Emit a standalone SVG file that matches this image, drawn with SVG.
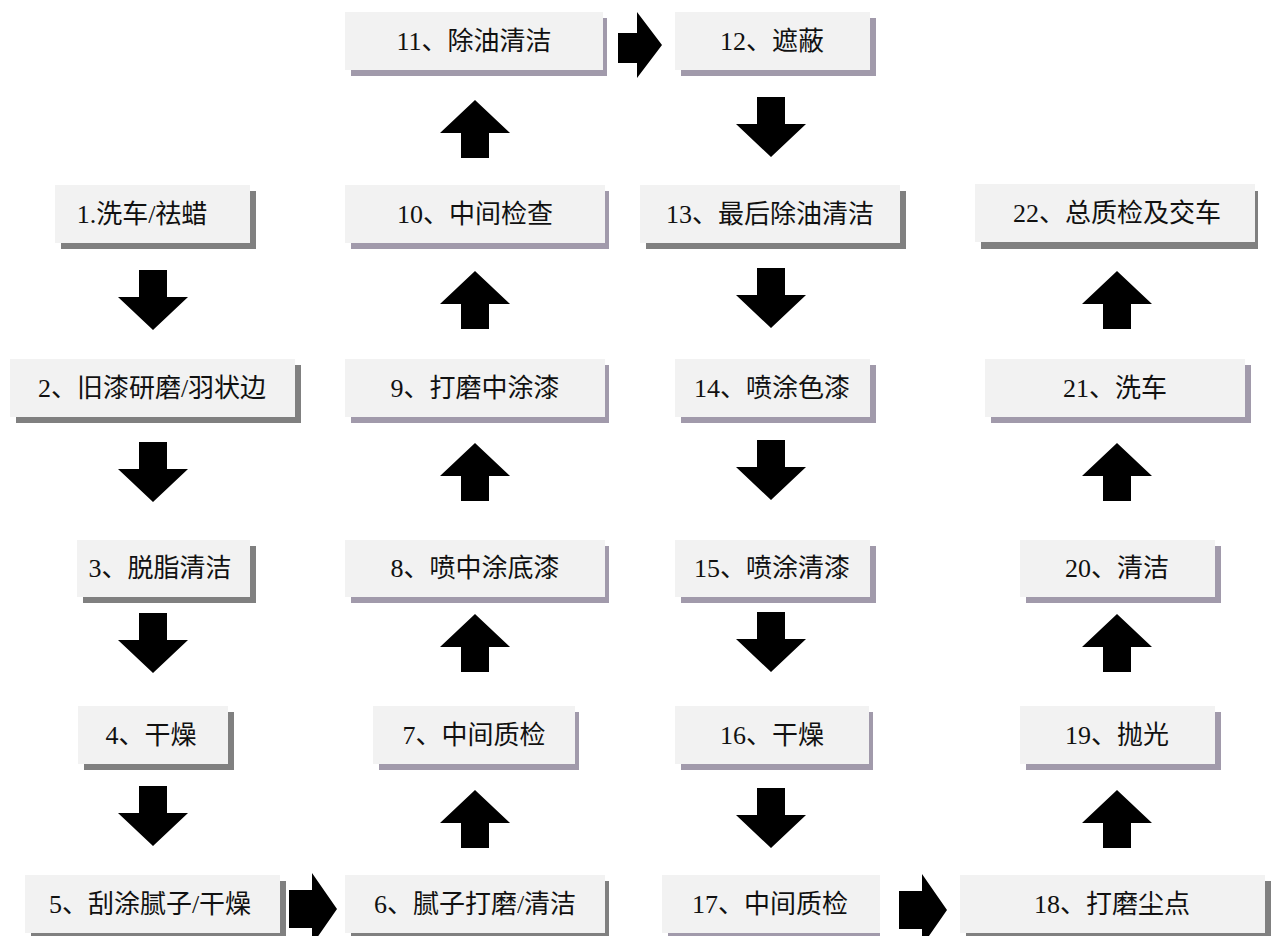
<svg xmlns="http://www.w3.org/2000/svg" width="1275" height="936" viewBox="0 0 1275 936">
<style>
.box{fill:#f2f2f2}
.sg{fill:#808080}
.sp{fill:#a19aab}
.t{font-family:"Liberation Serif","Noto Sans CJK SC",serif;font-size:26px;fill:#111;text-anchor:middle}
.ar{fill:#000}
</style>
<rect width="1275" height="936" fill="#fff"/>
<defs>
<polygon id="dn" points="-14,0 14,0 14,27 35,27 0,60 -35,27 -14,27"/>
<polygon id="up" points="0,0 35,33 14,33 14,58 -14,58 -14,33 -35,33"/>
<polygon id="rt" points="0,21 19,21 19,0 44,33 19,66 19,51 0,51"/>
<polygon id="rt2" points="0,-19 23,-19 23,-36 48,0 23,36 23,19 0,19"/>
</defs>
<g id="connectors" class="ar">
<use href="#rt" x="618" y="12"/>
<use href="#rt2" x="289" y="909"/>
<use href="#rt2" x="899" y="910"/>
<use href="#dn" x="153" y="270"/>
<use href="#dn" x="153" y="442"/>
<use href="#dn" x="153" y="613"/>
<use href="#dn" x="153" y="786"/>
<use href="#up" x="475" y="100"/>
<use href="#up" x="475" y="271"/>
<use href="#up" x="475" y="443"/>
<use href="#up" x="475" y="614"/>
<use href="#up" x="475" y="790"/>
<use href="#dn" x="771" y="97"/>
<use href="#dn" x="771" y="268"/>
<use href="#dn" x="771" y="440"/>
<use href="#dn" x="771" y="612"/>
<use href="#dn" x="771" y="788"/>
<use href="#up" x="1117" y="271"/>
<use href="#up" x="1117" y="443"/>
<use href="#up" x="1117" y="614"/>
<use href="#up" x="1117" y="790"/>
</g>
<g id="n1"><rect class="sg" x="61" y="191" width="195" height="58"/><rect class="box" x="55" y="185" width="195" height="58"/><text class="t" x="142" y="223">1.洗车/祛蜡</text></g>
<g id="n2"><rect class="sg" x="16" y="365" width="285" height="58"/><rect class="box" x="10" y="359" width="285" height="58"/><text class="t" x="152" y="397">2、旧漆研磨/羽状边</text></g>
<g id="n3"><rect class="sg" x="83" y="546" width="173" height="57"/><rect class="box" x="77" y="540" width="173" height="57"/><text class="t" x="160" y="577">3、脱脂清洁</text></g>
<g id="n4"><rect class="sg" x="84" y="712" width="150" height="58"/><rect class="box" x="78" y="706" width="150" height="58"/><text class="t" x="151" y="744">4、干燥</text></g>
<g id="n5"><rect class="sg" x="31" y="881" width="255" height="58"/><rect class="box" x="25" y="875" width="255" height="58"/><text class="t" x="150" y="913">5、刮涂腻子/干燥</text></g>
<g id="n6"><rect class="sg" x="351" y="881" width="258" height="58"/><rect class="box" x="345" y="875" width="260" height="58"/><text class="t" x="475" y="913">6、腻子打磨/清洁</text></g>
<g id="n7"><rect class="sp" x="379" y="712" width="200" height="58"/><rect class="box" x="373" y="706" width="202" height="58"/><text class="t" x="474" y="744">7、中间质检</text></g>
<g id="n8"><rect class="sp" x="351" y="546" width="258" height="57"/><rect class="box" x="345" y="540" width="260" height="57"/><text class="t" x="475" y="577">8、喷中涂底漆</text></g>
<g id="n9"><rect class="sp" x="351" y="365" width="258" height="58"/><rect class="box" x="345" y="359" width="260" height="58"/><text class="t" x="475" y="397">9、打磨中涂漆</text></g>
<g id="n10"><rect class="sp" x="351" y="191" width="258" height="58"/><rect class="box" x="345" y="185" width="260" height="58"/><text class="t" x="475" y="223">10、中间检查</text></g>
<g id="n11"><rect class="sp" x="351" y="18" width="256" height="58"/><rect class="box" x="345" y="12" width="258" height="58"/><text class="t" x="474" y="50">11、除油清洁</text></g>
<g id="n12"><rect class="sp" x="681" y="18" width="195" height="58"/><rect class="box" x="675" y="12" width="195" height="58"/><text class="t" x="772" y="50">12、遮蔽</text></g>
<g id="n13"><rect class="sg" x="646" y="191" width="260" height="58"/><rect class="box" x="640" y="185" width="260" height="58"/><text class="t" x="770" y="223">13、最后除油清洁</text></g>
<g id="n14"><rect class="sp" x="681" y="365" width="195" height="58"/><rect class="box" x="675" y="359" width="195" height="58"/><text class="t" x="772" y="397">14、喷涂色漆</text></g>
<g id="n15"><rect class="sp" x="681" y="546" width="195" height="57"/><rect class="box" x="675" y="540" width="195" height="57"/><text class="t" x="772" y="577">15、喷涂清漆</text></g>
<g id="n16"><rect class="sp" x="681" y="712" width="192" height="58"/><rect class="box" x="675" y="706" width="194" height="58"/><text class="t" x="772" y="744">16、干燥</text></g>
<g id="n17"><rect class="sp" x="668" y="881" width="212" height="58"/><rect class="box" x="662" y="875" width="218" height="58"/><text class="t" x="770" y="913">17、中间质检</text></g>
<g id="n18"><rect class="sg" x="966" y="881" width="305" height="58"/><rect class="box" x="960" y="875" width="305" height="58"/><text class="t" x="1112" y="913">18、打磨尘点</text></g>
<g id="n19"><rect class="sp" x="1026" y="712" width="195" height="58"/><rect class="box" x="1020" y="706" width="195" height="58"/><text class="t" x="1117" y="744">19、抛光</text></g>
<g id="n20"><rect class="sp" x="1026" y="546" width="195" height="57"/><rect class="box" x="1020" y="540" width="195" height="57"/><text class="t" x="1117" y="577">20、清洁</text></g>
<g id="n21"><rect class="sp" x="991" y="365" width="260" height="58"/><rect class="box" x="985" y="359" width="260" height="58"/><text class="t" x="1115" y="397">21、洗车</text></g>
<g id="n22"><rect class="sg" x="981" y="191" width="277" height="58"/><rect class="box" x="975" y="184" width="280" height="58"/><text class="t" x="1117" y="222">22、总质检及交车</text></g>
</svg>
